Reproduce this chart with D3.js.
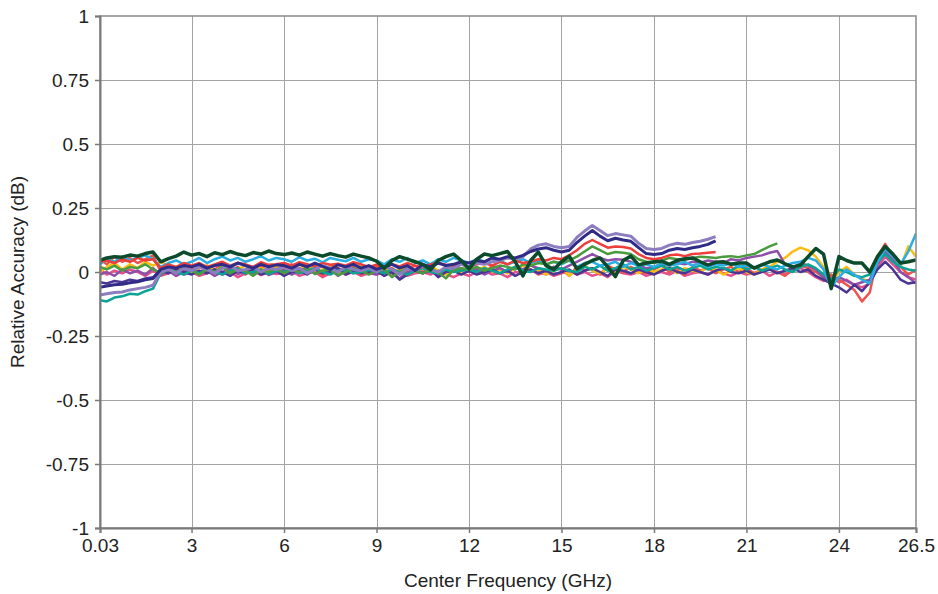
<!DOCTYPE html>
<html>
<head>
<meta charset="utf-8">
<script src="https://cdn.jsdelivr.net/npm/d3@7"></script>
<style>
  body { margin: 0; background: #fff; }
  text { font-family: "Liberation Sans", Arial, sans-serif; fill: #222; }
</style>
</head>
<body>
<div id="chart"></div>
<script>
// center frequency samples (GHz)
var freq = [0.03,0.25,0.5,0.75,1,1.25,1.5,1.75,2,2.25,2.5,2.75,3,3.25,3.5,3.75,4,4.25,4.5,4.75,5,5.25,5.5,5.75,
  6,6.25,6.5,6.75,7,7.25,7.5,7.75,8,8.25,8.5,8.75,9,9.25,9.5,9.75,10,10.25,10.5,10.75,11,11.25,11.5,11.75,
  12,12.25,12.5,12.75,13,13.25,13.5,13.75,14,14.25,14.5,14.75,15,15.25,15.5,15.75,16,16.25,16.5,16.75,17,17.25,17.5,17.75,
  18,18.25,18.5,18.75,19,19.25,19.5,19.75,20,20.25,20.5,20.75,21,21.25,21.5,21.75,22,22.25,22.5,22.75,23,23.25,23.5,23.75,
  24,24.25,24.5,24.75,25,25.25,25.5,25.75,26,26.25,26.5];

// relative accuracy per unit, in milli-dB
var darkGreen = [45, 55,60,58,66,62,72,78, 40,52,62,78,
  66,72,60,75,68,80,70,64,76,70,82,72,
  68,74,66,78,70,62,72,64,58,70,62,55,
  42,15,45,60,50,40,30,8,45,60,70,45,
  12,50,70,64,72,80,40,-15,45,78,25,10,
  40,62,12,30,45,55,20,-18,45,62,28,35,
  40,42,30,45,52,55,40,27,38,40,30,35,
  35,15,28,40,47,32,20,27,60,92,70,-65,
  60,45,35,35,0,60,100,70,35,40,47];
var navy = [-60, -55,-50,-48,-42,-38,-30,-25, 10,20,15,25,
  20,30,15,25,30,20,35,25,15,30,20,28,
  25,15,30,20,35,22,10,28,20,30,15,25,
  10,20,30,15,25,5,30,20,35,25,30,40,
  35,45,40,55,50,60,55,65,80,90,95,85,
  78,85,115,140,162,140,122,132,125,120,95,72,
  68,72,85,92,88,95,100,108,122];
var lavender = [-90, -85,-80,-78,-70,-65,-60,-52, 0,10,-5,15,
  5,20,10,-5,15,25,5,10,20,0,15,10,
  20,5,15,-5,10,25,15,0,20,10,5,15,
  0,20,10,-10,15,5,25,10,0,20,15,30,
  20,35,30,40,45,55,50,60,90,105,110,100,
  95,100,135,160,182,162,142,150,145,140,112,92,
  88,92,105,112,108,115,120,128,138];
var red = [40, 45,35,50,40,55,45,50, 15,30,20,35,
  25,35,20,30,40,25,35,30,20,38,28,30,
  35,25,38,30,22,35,28,32,25,38,30,20,
  28,15,30,22,35,25,18,30,35,28,22,30,
  20,30,35,25,40,30,45,35,40,50,45,55,
  50,65,85,110,125,110,95,100,98,92,70,55,
  50,55,65,68,62,70,72,75,78];
var green = [20, 10,25,5,20,15,30,10, -5,10,0,15,
  5,-10,10,0,20,-5,10,5,-15,8,0,12,
  -5,10,0,15,-8,5,10,-12,0,15,5,-10,
  5,10,-20,0,15,5,-5,10,0,-25,8,15,
  10,20,5,15,25,20,10,30,25,35,30,40,
  35,45,60,80,100,85,70,78,75,70,50,40,
  35,45,55,50,48,55,60,58,55,60,62,58,
  65,70,85,100,112];
var purple = [-10, 0,-15,10,-5,5,-10,15, -10,5,-15,0,
  10,-5,5,-15,0,15,-8,5,-5,10,-12,0,
  8,-10,5,15,-5,0,10,-15,5,-5,12,0,
  -10,5,-5,-25,0,10,-5,5,-15,0,8,15,
  0,10,-10,5,15,0,20,10,25,15,5,20,
  10,25,40,55,70,55,45,50,48,40,25,15,
  20,30,25,35,30,40,35,45,40,35,50,45,
  55,60,65,75,82,30,15,35,25,10,-20,-40,
  -20,-35,-50,-40,-30,30,80,50,0,-20,-45];
var cyan = [30, 50,40,60,45,55,65,50, 20,35,45,30,
  40,55,35,50,60,45,55,40,50,62,45,55,
  50,40,58,45,52,38,55,48,42,55,40,50,
  45,30,50,40,55,35,45,30,50,40,55,45,
  35,50,40,55,45,30,40,50,35,45,30,40,
  30,45,20,35,40,25,30,40,20,35,25,30,
  20,35,25,30,40,25,35,20,30,25,35,20,
  25,15,30,20,10,25,35,40,55,45,10,-60,
  -20,10,-10,-30,-45,40,90,60,30,80,150];
var yellow = [0, 20,35,10,30,15,40,25, 40,25,10,20,
  0,15,25,5,20,-5,10,25,0,15,5,20,
  10,-5,15,25,0,10,20,-5,15,5,25,10,
  0,15,-5,10,20,0,15,25,5,-10,10,0,
  15,5,20,0,10,-5,15,25,5,10,-10,5,
  15,-15,10,25,5,-5,15,0,20,10,-5,15,
  0,10,20,-5,15,5,0,20,10,-10,5,15,
  0,-10,10,20,40,55,80,95,85,60,20,-40,
  0,20,-10,-25,-40,30,85,70,20,100,60];
var teal = [-110, -115,-100,-95,-85,-88,-75,-65, -5,10,0,-10,
  5,-5,10,0,-10,5,15,-5,0,10,-8,5,
  0,10,-5,5,15,0,-10,5,10,-5,0,8,
  5,-5,10,0,-10,5,15,0,-5,10,0,5,
  10,0,15,5,-5,10,20,5,0,15,10,5,
  15,5,0,20,10,25,5,15,30,10,20,5,
  15,25,10,20,5,15,25,10,20,15,5,25,
  10,20,5,15,25,10,0,20,30,15,-10,-30,
  10,0,-15,-20,-10,40,70,40,20,10,5];
var pink = [10, -10,5,-5,10,0,-15,5, -15,-5,5,-10,
  0,-15,-5,5,-10,0,-20,-5,5,-12,0,-8,
  -5,5,-15,-5,0,-20,-5,5,-10,0,-15,-5,
  -10,0,-5,5,-15,-5,0,-10,5,-8,-20,-5,
  -15,0,5,-10,-5,-20,0,-5,10,-10,0,-15,
  -5,5,-10,0,-15,-5,-20,5,-5,-10,0,-15,
  -5,0,-10,5,-15,-5,0,-10,5,-5,-15,0,
  -10,-5,5,-15,0,-10,5,15,0,-20,-35,-20,
  -40,-30,-50,-60,-45,20,60,30,0,-20,-30];
var red2 = [50, 30,60,40,55,35,50,65, 0,20,-15,10,
  20,-5,25,10,30,5,20,-10,15,25,0,20,
  15,30,0,20,10,-15,25,15,5,20,-10,15,
  20,5,15,-5,10,25,0,20,-10,15,25,5,
  20,10,-5,25,15,0,20,10,30,5,-10,20,
  10,-15,20,5,15,-10,25,10,0,20,5,-5,
  10,25,0,15,-10,20,5,15,-5,10,20,0,
  15,-5,10,20,0,-15,10,25,15,0,-20,-10,
  -30,-50,-70,-115,-80,60,110,60,20,-10,10];
var violet = [-40, -45,-35,-40,-30,-35,-25,-20, 5,-5,10,0,
  -10,5,-5,10,0,-15,5,-5,10,-10,0,5,
  -15,0,5,-10,10,-5,0,15,-10,5,-5,0,
  5,-15,0,-30,-10,5,-5,10,-20,0,5,-10,
  5,-10,0,10,-5,5,-15,0,10,-5,5,-10,
  0,10,-10,5,15,0,-15,10,5,-5,10,0,
  -10,5,15,0,-5,10,0,-10,5,15,0,-5,
  5,-10,0,10,-5,5,15,0,10,-15,-30,-45,
  -60,-80,-50,-75,-40,10,40,10,-30,-45,-40];

var xTicks = [0.03, 3, 6, 9, 12, 15, 18, 21, 24, 26.5];
var xTickLabels = ["0.03", "3", "6", "9", "12", "15", "18", "21", "24", "26.5"];
var yTicks = [-1, -0.75, -0.5, -0.25, 0, 0.25, 0.5, 0.75, 1];
var yTickLabels = ["-1", "-0.75", "-0.5", "-0.25", "0", "0.25", "0.5", "0.75", "1"];

// drawing order: background traces first, highlighted ones last
var series = [
  {values: pink, color: "#e6508c", width: 2.5},
  {values: red2, color: "#f0534b", width: 2.5},
  {values: yellow, color: "#fbbd12", width: 2.5},
  {values: purple, color: "#8e4fa8", width: 2.5},
  {values: violet, color: "#4b3593", width: 2.5},
  {values: teal, color: "#0aa396", width: 2.5},
  {values: cyan, color: "#2aaee3", width: 2.5},
  {values: green, color: "#4a9b3f", width: 2.5},
  {values: red, color: "#ee3e3a", width: 2.5},
  {values: lavender, color: "#8c7dc0", width: 3},
  {values: navy, color: "#2f2b87", width: 3},
  {values: darkGreen, color: "#0b4a2a", width: 3.5}
];

var W = 938, H = 594;
var margin = {top: 16, right: 22, bottom: 66, left: 100};
var w = W - margin.left - margin.right;
var h = H - margin.top - margin.bottom;

var svg = d3.select("#chart").append("svg")
    .attr("width", W)
    .attr("height", H);

var g = svg.append("g")
    .attr("transform", "translate(" + margin.left + "," + margin.top + ")");

var x = d3.scaleLinear().domain([0.03, 26.5]).range([0, w]);
var y = d3.scaleLinear().domain([-1, 1]).range([h, 0]);

// grid
g.append("g")
    .selectAll("line.vg")
    .data(xTicks.slice(1, -1))
    .enter().append("line")
    .attr("x1", function(d) { return Math.round(x(d)) + 0.5; })
    .attr("x2", function(d) { return Math.round(x(d)) + 0.5; })
    .attr("y1", 0).attr("y2", h)
    .attr("stroke", "#a3a3a3")
    .attr("stroke-width", 1);

g.append("g")
    .selectAll("line.hg")
    .data(yTicks.slice(1, -1))
    .enter().append("line")
    .attr("y1", function(d) { return Math.round(y(d)) + 0.5; })
    .attr("y2", function(d) { return Math.round(y(d)) + 0.5; })
    .attr("x1", 0).attr("x2", w)
    .attr("stroke", "#a3a3a3")
    .attr("stroke-width", 1);

// traces
g.append("clipPath").attr("id", "clip")
  .append("rect").attr("width", w).attr("height", h);

var line = d3.line()
    .x(function(d, i) { return x(freq[i]); })
    .y(function(d) { return y(d / 1000); });

g.append("g")
    .attr("clip-path", "url(#clip)")
    .selectAll("path")
    .data(series)
    .enter().append("path")
    .attr("d", function(s) { return line(s.values); })
    .attr("fill", "none")
    .attr("stroke", function(s) { return s.color; })
    .attr("stroke-width", function(s) { return s.width; })
    .attr("stroke-linejoin", "round");

// frame
g.append("rect")
    .attr("width", w).attr("height", h)
    .attr("fill", "none")
    .attr("stroke", "#8a8a8a")
    .attr("stroke-width", 1.5);

// axes
var xAxis = d3.axisBottom(x)
    .tickValues(xTicks)
    .tickFormat(function(d, i) { return xTickLabels[i]; })
    .tickSize(5)
    .tickPadding(6);

var yAxis = d3.axisLeft(y)
    .tickValues(yTicks)
    .tickFormat(function(d, i) { return yTickLabels[i]; })
    .tickSize(5)
    .tickPadding(6);

var gx = g.append("g")
    .attr("transform", "translate(0," + h + ")")
    .call(xAxis);
var gy = g.append("g").call(yAxis);

[gx, gy].forEach(function(a) {
  a.select(".domain").attr("stroke", "#7a7a7a").attr("stroke-width", 2);
  a.selectAll(".tick line").attr("stroke", "#7a7a7a").attr("stroke-width", 1.5);
  a.selectAll(".tick text")
    .attr("font-size", "19px")
    .attr("font-family", "Liberation Sans, Arial, sans-serif")
    .attr("fill", "#222");
});

// axis titles
svg.append("text")
    .attr("x", margin.left + w / 2)
    .attr("y", 587)
    .attr("text-anchor", "middle")
    .attr("font-size", "19px")
    .text("Center Frequency (GHz)");

svg.append("text")
    .attr("transform", "translate(24," + (margin.top + h / 2) + ") rotate(-90)")
    .attr("text-anchor", "middle")
    .attr("font-size", "19px")
    .text("Relative Accuracy (dB)");
</script>
</body>
</html>
